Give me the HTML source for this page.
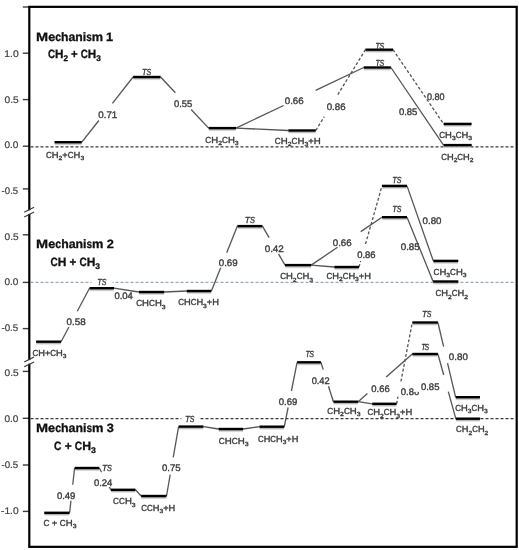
<!DOCTYPE html>
<html><head><meta charset="utf-8"><style>
html,body{margin:0;padding:0;background:#fff;}
body{width:519px;height:550px;position:relative;overflow:hidden;font-family:"Liberation Sans", sans-serif;}
svg text{font-family:"Liberation Sans", sans-serif;text-rendering:geometricPrecision;}
</style></head><body>
<svg width="519" height="550" viewBox="0 0 519 550" style="position:absolute;left:0;top:0;will-change:transform">
<line x1="30.5" y1="146.9" x2="515" y2="146.9" stroke="#3a3a3a" stroke-width="1.1" stroke-dasharray="3 2"/>
<line x1="30.5" y1="282.4" x2="515" y2="282.4" stroke="#9aa6b4" stroke-width="1.1" stroke-dasharray="3 2"/>
<line x1="30.5" y1="418.6" x2="515" y2="418.6" stroke="#3a3a3a" stroke-width="1.1" stroke-dasharray="3 2"/>
<line x1="81.80" y1="142.20" x2="98.87" y2="120.50" stroke="#555" stroke-width="1.3"/>
<line x1="112.41" y1="103.30" x2="133.10" y2="77.00" stroke="#555" stroke-width="1.3"/>
<line x1="160.60" y1="77.00" x2="175.35" y2="92.70" stroke="#555" stroke-width="1.3"/>
<line x1="191.13" y1="109.50" x2="208.60" y2="128.10" stroke="#555" stroke-width="1.3"/>
<line x1="236.00" y1="128.10" x2="283.62" y2="105.50" stroke="#555" stroke-width="1.3"/>
<line x1="315.65" y1="90.30" x2="363.70" y2="67.50" stroke="#555" stroke-width="1.3"/>
<line x1="236.00" y1="128.10" x2="288.30" y2="130.50" stroke="#555" stroke-width="1.3"/>
<line x1="315.80" y1="130.50" x2="324.27" y2="116.70" stroke="#555" stroke-width="1.3" stroke-dasharray="3 2"/>
<line x1="337.78" y1="94.70" x2="365.40" y2="49.70" stroke="#555" stroke-width="1.3" stroke-dasharray="3 2"/>
<line x1="390.90" y1="67.50" x2="443.50" y2="145.10" stroke="#555" stroke-width="1.3"/>
<line x1="393.00" y1="49.70" x2="443.60" y2="123.90" stroke="#555" stroke-width="1.3" stroke-dasharray="3 2"/>
<line x1="61.10" y1="341.70" x2="68.90" y2="327.00" stroke="#555" stroke-width="1.3"/>
<line x1="77.29" y1="311.20" x2="89.50" y2="288.20" stroke="#555" stroke-width="1.3"/>
<line x1="114.00" y1="288.20" x2="138.90" y2="292.00" stroke="#555" stroke-width="1.3"/>
<line x1="164.30" y1="292.00" x2="186.60" y2="291.00" stroke="#555" stroke-width="1.3"/>
<line x1="211.40" y1="291.00" x2="220.69" y2="267.80" stroke="#555" stroke-width="1.3"/>
<line x1="226.70" y1="252.80" x2="237.40" y2="226.10" stroke="#555" stroke-width="1.3"/>
<line x1="262.40" y1="226.10" x2="269.12" y2="237.70" stroke="#555" stroke-width="1.3"/>
<line x1="278.51" y1="253.90" x2="285.00" y2="265.10" stroke="#555" stroke-width="1.3"/>
<line x1="311.20" y1="265.10" x2="337.51" y2="247.30" stroke="#555" stroke-width="1.3"/>
<line x1="360.72" y1="231.60" x2="382.00" y2="217.20" stroke="#555" stroke-width="1.3"/>
<line x1="311.20" y1="265.10" x2="334.30" y2="267.00" stroke="#555" stroke-width="1.3"/>
<line x1="359.00" y1="267.00" x2="360.70" y2="261.00" stroke="#555" stroke-width="1.3" stroke-dasharray="3 2"/>
<line x1="365.52" y1="244.00" x2="382.00" y2="185.90" stroke="#555" stroke-width="1.3" stroke-dasharray="3 2"/>
<line x1="407.00" y1="185.90" x2="433.30" y2="260.90" stroke="#555" stroke-width="1.3"/>
<line x1="407.00" y1="217.20" x2="433.10" y2="281.50" stroke="#555" stroke-width="1.3"/>
<line x1="69.60" y1="512.80" x2="70.95" y2="500.70" stroke="#555" stroke-width="1.3"/>
<line x1="72.74" y1="484.70" x2="74.60" y2="468.00" stroke="#555" stroke-width="1.3"/>
<line x1="99.30" y1="468.00" x2="101.57" y2="472.30" stroke="#555" stroke-width="1.3"/>
<line x1="109.32" y1="487.00" x2="110.80" y2="489.80" stroke="#555" stroke-width="1.3"/>
<line x1="135.50" y1="489.80" x2="141.10" y2="496.00" stroke="#555" stroke-width="1.3"/>
<line x1="166.50" y1="496.00" x2="170.21" y2="474.70" stroke="#555" stroke-width="1.3"/>
<line x1="173.23" y1="457.40" x2="178.60" y2="426.60" stroke="#555" stroke-width="1.3"/>
<line x1="203.50" y1="426.60" x2="218.50" y2="429.00" stroke="#555" stroke-width="1.3"/>
<line x1="243.30" y1="429.00" x2="259.40" y2="426.70" stroke="#555" stroke-width="1.3"/>
<line x1="284.30" y1="426.70" x2="288.12" y2="407.50" stroke="#555" stroke-width="1.3"/>
<line x1="291.40" y1="391.00" x2="297.10" y2="362.30" stroke="#555" stroke-width="1.3"/>
<line x1="320.90" y1="362.30" x2="323.22" y2="369.60" stroke="#555" stroke-width="1.3"/>
<line x1="328.48" y1="386.20" x2="333.40" y2="401.70" stroke="#555" stroke-width="1.3"/>
<line x1="358.20" y1="401.70" x2="367.39" y2="393.60" stroke="#555" stroke-width="1.3"/>
<line x1="386.21" y1="377.00" x2="412.30" y2="354.00" stroke="#555" stroke-width="1.3"/>
<line x1="358.20" y1="401.70" x2="372.20" y2="403.80" stroke="#555" stroke-width="1.3"/>
<line x1="396.60" y1="403.80" x2="397.99" y2="396.60" stroke="#555" stroke-width="1.3" stroke-dasharray="3 2"/>
<line x1="400.91" y1="381.50" x2="412.30" y2="322.50" stroke="#555" stroke-width="1.3" stroke-dasharray="3 2"/>
<line x1="437.90" y1="322.50" x2="443.63" y2="346.70" stroke="#555" stroke-width="1.3"/>
<line x1="447.54" y1="363.20" x2="455.60" y2="397.20" stroke="#555" stroke-width="1.3"/>
<line x1="437.90" y1="354.00" x2="443.71" y2="375.00" stroke="#555" stroke-width="1.3"/>
<line x1="448.30" y1="391.60" x2="455.80" y2="418.70" stroke="#555" stroke-width="1.3"/>
<defs><linearGradient id="sh" x1="0" y1="0" x2="0" y2="1"><stop offset="0" stop-color="#9a9a9a"/><stop offset="0.45" stop-color="#cfcfcf"/><stop offset="1" stop-color="#fff" stop-opacity="0"/></linearGradient></defs>
<rect x="54.80" y="143.30" width="26.70" height="2.8" fill="url(#sh)"/>
<rect x="133.40" y="78.10" width="26.90" height="2.8" fill="url(#sh)"/>
<rect x="208.90" y="129.20" width="26.80" height="2.8" fill="url(#sh)"/>
<rect x="288.60" y="131.60" width="26.90" height="2.8" fill="url(#sh)"/>
<rect x="364.00" y="68.60" width="26.60" height="2.8" fill="url(#sh)"/>
<rect x="365.70" y="50.80" width="27.00" height="2.8" fill="url(#sh)"/>
<rect x="443.90" y="125.00" width="27.40" height="2.8" fill="url(#sh)"/>
<rect x="443.80" y="146.20" width="27.60" height="2.8" fill="url(#sh)"/>
<rect x="36.40" y="342.80" width="24.40" height="2.8" fill="url(#sh)"/>
<rect x="89.80" y="289.30" width="23.90" height="2.8" fill="url(#sh)"/>
<rect x="139.20" y="293.10" width="24.80" height="2.8" fill="url(#sh)"/>
<rect x="186.90" y="292.10" width="24.20" height="2.8" fill="url(#sh)"/>
<rect x="237.70" y="227.20" width="24.40" height="2.8" fill="url(#sh)"/>
<rect x="285.30" y="266.20" width="25.60" height="2.8" fill="url(#sh)"/>
<rect x="334.60" y="268.10" width="24.10" height="2.8" fill="url(#sh)"/>
<rect x="382.30" y="187.00" width="24.40" height="2.8" fill="url(#sh)"/>
<rect x="382.30" y="218.30" width="24.40" height="2.8" fill="url(#sh)"/>
<rect x="433.60" y="262.00" width="24.40" height="2.8" fill="url(#sh)"/>
<rect x="433.40" y="282.60" width="24.60" height="2.8" fill="url(#sh)"/>
<rect x="44.50" y="513.90" width="24.80" height="2.8" fill="url(#sh)"/>
<rect x="74.90" y="469.10" width="24.10" height="2.8" fill="url(#sh)"/>
<rect x="111.10" y="490.90" width="24.10" height="2.8" fill="url(#sh)"/>
<rect x="141.40" y="497.10" width="24.80" height="2.8" fill="url(#sh)"/>
<rect x="178.90" y="427.70" width="24.30" height="2.8" fill="url(#sh)"/>
<rect x="218.80" y="430.10" width="24.20" height="2.8" fill="url(#sh)"/>
<rect x="259.70" y="427.80" width="24.30" height="2.8" fill="url(#sh)"/>
<rect x="297.40" y="363.40" width="23.20" height="2.8" fill="url(#sh)"/>
<rect x="333.70" y="402.80" width="24.20" height="2.8" fill="url(#sh)"/>
<rect x="372.50" y="404.90" width="23.80" height="2.8" fill="url(#sh)"/>
<rect x="412.60" y="323.60" width="25.00" height="2.8" fill="url(#sh)"/>
<rect x="412.60" y="355.10" width="25.00" height="2.8" fill="url(#sh)"/>
<rect x="455.90" y="398.30" width="23.80" height="2.8" fill="url(#sh)"/>
<rect x="456.10" y="419.80" width="23.70" height="2.8" fill="url(#sh)"/>
<line x1="54.5" y1="142.2" x2="81.8" y2="142.2" stroke="#000" stroke-width="2.4"/>
<line x1="133.1" y1="77.0" x2="160.6" y2="77.0" stroke="#000" stroke-width="2.4"/>
<line x1="208.6" y1="128.1" x2="236.0" y2="128.1" stroke="#000" stroke-width="2.4"/>
<line x1="288.3" y1="130.5" x2="315.8" y2="130.5" stroke="#000" stroke-width="2.4"/>
<line x1="363.7" y1="67.5" x2="390.9" y2="67.5" stroke="#000" stroke-width="2.4"/>
<line x1="365.4" y1="49.7" x2="393.0" y2="49.7" stroke="#000" stroke-width="2.4"/>
<line x1="443.6" y1="123.9" x2="471.6" y2="123.9" stroke="#000" stroke-width="2.4"/>
<line x1="443.5" y1="145.1" x2="471.7" y2="145.1" stroke="#000" stroke-width="2.4"/>
<line x1="36.1" y1="341.7" x2="61.1" y2="341.7" stroke="#000" stroke-width="2.4"/>
<line x1="89.5" y1="288.2" x2="114.0" y2="288.2" stroke="#000" stroke-width="2.4"/>
<line x1="138.9" y1="292.0" x2="164.3" y2="292.0" stroke="#000" stroke-width="2.4"/>
<line x1="186.6" y1="291.0" x2="211.4" y2="291.0" stroke="#000" stroke-width="2.4"/>
<line x1="237.4" y1="226.1" x2="262.4" y2="226.1" stroke="#000" stroke-width="2.4"/>
<line x1="285.0" y1="265.1" x2="311.2" y2="265.1" stroke="#000" stroke-width="2.4"/>
<line x1="334.3" y1="267.0" x2="359.0" y2="267.0" stroke="#000" stroke-width="2.4"/>
<line x1="382.0" y1="185.9" x2="407.0" y2="185.9" stroke="#000" stroke-width="2.4"/>
<line x1="382.0" y1="217.2" x2="407.0" y2="217.2" stroke="#000" stroke-width="2.4"/>
<line x1="433.3" y1="260.9" x2="458.3" y2="260.9" stroke="#000" stroke-width="2.4"/>
<line x1="433.1" y1="281.5" x2="458.3" y2="281.5" stroke="#000" stroke-width="2.4"/>
<line x1="44.2" y1="512.8" x2="69.6" y2="512.8" stroke="#000" stroke-width="2.4"/>
<line x1="74.6" y1="468.0" x2="99.3" y2="468.0" stroke="#000" stroke-width="2.4"/>
<line x1="110.8" y1="489.8" x2="135.5" y2="489.8" stroke="#000" stroke-width="2.4"/>
<line x1="141.1" y1="496.0" x2="166.5" y2="496.0" stroke="#000" stroke-width="2.4"/>
<line x1="178.6" y1="426.6" x2="203.5" y2="426.6" stroke="#000" stroke-width="2.4"/>
<line x1="218.5" y1="429.0" x2="243.3" y2="429.0" stroke="#000" stroke-width="2.4"/>
<line x1="259.4" y1="426.7" x2="284.3" y2="426.7" stroke="#000" stroke-width="2.4"/>
<line x1="297.1" y1="362.3" x2="320.9" y2="362.3" stroke="#000" stroke-width="2.4"/>
<line x1="333.4" y1="401.7" x2="358.2" y2="401.7" stroke="#000" stroke-width="2.4"/>
<line x1="372.2" y1="403.8" x2="396.6" y2="403.8" stroke="#000" stroke-width="2.4"/>
<line x1="412.3" y1="322.5" x2="437.9" y2="322.5" stroke="#000" stroke-width="2.4"/>
<line x1="412.3" y1="354.0" x2="437.9" y2="354.0" stroke="#000" stroke-width="2.4"/>
<line x1="455.6" y1="397.2" x2="480.0" y2="397.2" stroke="#000" stroke-width="2.4"/>
<line x1="455.8" y1="418.7" x2="480.1" y2="418.7" stroke="#000" stroke-width="2.4"/>
<line x1="22.8" y1="7.0" x2="29" y2="7.0" stroke="#3c3c3c" stroke-width="1.4"/>
<line x1="22.8" y1="53.2" x2="29" y2="53.2" stroke="#3c3c3c" stroke-width="1.4"/>
<line x1="22.8" y1="99.6" x2="29" y2="99.6" stroke="#3c3c3c" stroke-width="1.4"/>
<line x1="22.8" y1="146.2" x2="29" y2="146.2" stroke="#3c3c3c" stroke-width="1.4"/>
<line x1="22.8" y1="188.9" x2="29" y2="188.9" stroke="#3c3c3c" stroke-width="1.4"/>
<line x1="22.8" y1="234.8" x2="29" y2="234.8" stroke="#3c3c3c" stroke-width="1.4"/>
<line x1="22.8" y1="282.4" x2="29" y2="282.4" stroke="#3c3c3c" stroke-width="1.4"/>
<line x1="22.8" y1="328.6" x2="29" y2="328.6" stroke="#3c3c3c" stroke-width="1.4"/>
<line x1="22.8" y1="371.4" x2="29" y2="371.4" stroke="#3c3c3c" stroke-width="1.4"/>
<line x1="22.8" y1="418.3" x2="29" y2="418.3" stroke="#3c3c3c" stroke-width="1.4"/>
<line x1="22.8" y1="465.0" x2="29" y2="465.0" stroke="#3c3c3c" stroke-width="1.4"/>
<line x1="22.8" y1="511.4" x2="29" y2="511.4" stroke="#3c3c3c" stroke-width="1.4"/>
<rect x="29.3" y="6.85" width="487.4" height="540.0" fill="none" stroke="#000" stroke-width="2.2"/>
<rect x="27" y="210.3" width="5" height="3.6" fill="#fff"/>
<line x1="24.2" y1="212.3" x2="34.1" y2="207.2" stroke="#3a3a3a" stroke-width="1.15"/>
<line x1="24.2" y1="216.9" x2="34.1" y2="212.1" stroke="#3a3a3a" stroke-width="1.15"/>
<rect x="27" y="360.1" width="5" height="3.6" fill="#fff"/>
<line x1="24.2" y1="362.1" x2="34.1" y2="357.0" stroke="#3a3a3a" stroke-width="1.15"/>
<line x1="24.2" y1="366.70000000000005" x2="34.1" y2="361.9" stroke="#3a3a3a" stroke-width="1.15"/>
<rect x="91.6" y="280.9" width="20.80000000000001" height="3" fill="#fff"/>
<rect x="181.3" y="417.1" width="17.599999999999994" height="3" fill="#fff"/>
<text transform="translate(98.37,117.70) scale(1.024,1)" font-size="9.50" font-weight="normal" font-style="normal" fill="#3a3a3a" stroke="#3a3a3a" stroke-width="0.35">0</text><text transform="translate(103.78,117.70) scale(1.018,1)" font-size="9.50" font-weight="normal" font-style="normal" fill="#3a3a3a" stroke="#3a3a3a" stroke-width="0.35">.</text><text transform="translate(106.46,117.70) scale(1.024,1)" font-size="9.50" font-weight="normal" font-style="normal" fill="#3a3a3a" stroke="#3a3a3a" stroke-width="0.35">7</text><text transform="translate(111.87,117.70) scale(1.024,1)" font-size="9.50" font-weight="normal" font-style="normal" fill="#3a3a3a" stroke="#3a3a3a" stroke-width="0.35">1</text>
<text transform="translate(173.95,106.50) scale(0.990,1)" font-size="9.50" font-weight="normal" font-style="normal" fill="#3a3a3a" stroke="#3a3a3a" stroke-width="0.35">0</text><text transform="translate(179.18,106.50) scale(0.984,1)" font-size="9.50" font-weight="normal" font-style="normal" fill="#3a3a3a" stroke="#3a3a3a" stroke-width="0.35">.</text><text transform="translate(181.78,106.50) scale(0.990,1)" font-size="9.50" font-weight="normal" font-style="normal" fill="#3a3a3a" stroke="#3a3a3a" stroke-width="0.35">5</text><text transform="translate(187.01,106.50) scale(0.990,1)" font-size="9.50" font-weight="normal" font-style="normal" fill="#3a3a3a" stroke="#3a3a3a" stroke-width="0.35">5</text>
<text transform="translate(284.73,104.00) scale(1.026,1)" font-size="9.50" font-weight="normal" font-style="normal" fill="#3a3a3a" stroke="#3a3a3a" stroke-width="0.35">0</text><text transform="translate(290.15,104.00) scale(1.020,1)" font-size="9.50" font-weight="normal" font-style="normal" fill="#3a3a3a" stroke="#3a3a3a" stroke-width="0.35">.</text><text transform="translate(292.84,104.00) scale(1.026,1)" font-size="9.50" font-weight="normal" font-style="normal" fill="#3a3a3a" stroke="#3a3a3a" stroke-width="0.35">6</text><text transform="translate(298.26,104.00) scale(1.026,1)" font-size="9.50" font-weight="normal" font-style="normal" fill="#3a3a3a" stroke="#3a3a3a" stroke-width="0.35">6</text>
<text transform="translate(326.74,109.70) scale(1.018,1)" font-size="9.50" font-weight="normal" font-style="normal" fill="#3a3a3a" stroke="#3a3a3a" stroke-width="0.35">0</text><text transform="translate(332.12,109.70) scale(1.012,1)" font-size="9.50" font-weight="normal" font-style="normal" fill="#3a3a3a" stroke="#3a3a3a" stroke-width="0.35">.</text><text transform="translate(334.80,109.70) scale(1.018,1)" font-size="9.50" font-weight="normal" font-style="normal" fill="#3a3a3a" stroke="#3a3a3a" stroke-width="0.35">8</text><text transform="translate(340.17,109.70) scale(1.018,1)" font-size="9.50" font-weight="normal" font-style="normal" fill="#3a3a3a" stroke="#3a3a3a" stroke-width="0.35">6</text>
<text transform="translate(398.93,115.00) scale(0.998,1)" font-size="9.50" font-weight="normal" font-style="normal" fill="#3a3a3a" stroke="#3a3a3a" stroke-width="0.35">0</text><text transform="translate(404.20,115.00) scale(0.992,1)" font-size="9.50" font-weight="normal" font-style="normal" fill="#3a3a3a" stroke="#3a3a3a" stroke-width="0.35">.</text><text transform="translate(406.82,115.00) scale(0.998,1)" font-size="9.50" font-weight="normal" font-style="normal" fill="#3a3a3a" stroke="#3a3a3a" stroke-width="0.35">8</text><text transform="translate(412.09,115.00) scale(0.998,1)" font-size="9.50" font-weight="normal" font-style="normal" fill="#3a3a3a" stroke="#3a3a3a" stroke-width="0.35">5</text>
<text transform="translate(426.94,100.00) scale(0.953,1)" font-size="9.50" font-weight="normal" font-style="normal" fill="#3a3a3a" stroke="#3a3a3a" stroke-width="0.35">0</text><text transform="translate(431.97,100.00) scale(0.947,1)" font-size="9.50" font-weight="normal" font-style="normal" fill="#3a3a3a" stroke="#3a3a3a" stroke-width="0.35">.</text><text transform="translate(434.47,100.00) scale(0.953,1)" font-size="9.50" font-weight="normal" font-style="normal" fill="#3a3a3a" stroke="#3a3a3a" stroke-width="0.35">8</text><text transform="translate(439.50,100.00) scale(0.953,1)" font-size="9.50" font-weight="normal" font-style="normal" fill="#3a3a3a" stroke="#3a3a3a" stroke-width="0.35">0</text>
<text transform="translate(142.11,74.85) scale(0.865,1)" font-size="8.80" font-weight="normal" font-style="italic" fill="#3a3a3a" stroke="#3a3a3a" stroke-width="0.35">T</text><text transform="translate(146.60,74.85) scale(0.800,1)" font-size="8.80" font-weight="normal" font-style="italic" fill="#3a3a3a" stroke="#3a3a3a" stroke-width="0.35">S</text>
<text transform="translate(375.55,66.15) scale(0.807,1)" font-size="8.80" font-weight="normal" font-style="italic" fill="#3a3a3a" stroke="#3a3a3a" stroke-width="0.35">T</text><text transform="translate(379.59,66.15) scale(0.800,1)" font-size="8.80" font-weight="normal" font-style="italic" fill="#3a3a3a" stroke="#3a3a3a" stroke-width="0.35">S</text>
<text transform="translate(375.55,49.15) scale(0.807,1)" font-size="8.80" font-weight="normal" font-style="italic" fill="#3a3a3a" stroke="#3a3a3a" stroke-width="0.35">T</text><text transform="translate(379.59,49.15) scale(0.800,1)" font-size="8.80" font-weight="normal" font-style="italic" fill="#3a3a3a" stroke="#3a3a3a" stroke-width="0.35">S</text>
<text transform="translate(46.03,157.95) scale(0.914,1)" font-size="8.80" font-weight="normal" font-style="normal" fill="#3a3a3a" stroke="#3a3a3a" stroke-width="0.35">C</text><text transform="translate(51.83,157.95) scale(1.068,1)" font-size="8.80" font-weight="normal" font-style="normal" fill="#3a3a3a" stroke="#3a3a3a" stroke-width="0.35">H</text><text transform="translate(58.62,160.33) scale(1.129,1)" font-size="5.98" font-weight="normal" font-style="normal" fill="#3a3a3a" stroke="#3a3a3a" stroke-width="0.35">2</text><text transform="translate(62.37,157.95) scale(1.056,1)" font-size="8.80" font-weight="normal" font-style="normal" fill="#3a3a3a" stroke="#3a3a3a" stroke-width="0.35">+</text><text transform="translate(67.80,157.95) scale(0.914,1)" font-size="8.80" font-weight="normal" font-style="normal" fill="#3a3a3a" stroke="#3a3a3a" stroke-width="0.35">C</text><text transform="translate(73.61,157.95) scale(1.068,1)" font-size="8.80" font-weight="normal" font-style="normal" fill="#3a3a3a" stroke="#3a3a3a" stroke-width="0.35">H</text><text transform="translate(80.39,160.33) scale(1.129,1)" font-size="5.98" font-weight="normal" font-style="normal" fill="#3a3a3a" stroke="#3a3a3a" stroke-width="0.35">3</text>
<text transform="translate(205.36,142.75) scale(0.930,1)" font-size="8.80" font-weight="normal" font-style="normal" fill="#3a3a3a" stroke="#3a3a3a" stroke-width="0.35">C</text><text transform="translate(211.27,142.75) scale(1.087,1)" font-size="8.80" font-weight="normal" font-style="normal" fill="#3a3a3a" stroke="#3a3a3a" stroke-width="0.35">H</text><text transform="translate(218.17,145.13) scale(1.148,1)" font-size="5.98" font-weight="normal" font-style="normal" fill="#3a3a3a" stroke="#3a3a3a" stroke-width="0.35">2</text><text transform="translate(221.99,142.75) scale(0.930,1)" font-size="8.80" font-weight="normal" font-style="normal" fill="#3a3a3a" stroke="#3a3a3a" stroke-width="0.35">C</text><text transform="translate(227.90,142.75) scale(1.087,1)" font-size="8.80" font-weight="normal" font-style="normal" fill="#3a3a3a" stroke="#3a3a3a" stroke-width="0.35">H</text><text transform="translate(234.80,145.13) scale(1.148,1)" font-size="5.98" font-weight="normal" font-style="normal" fill="#3a3a3a" stroke="#3a3a3a" stroke-width="0.35">3</text>
<text transform="translate(274.78,143.95) scale(0.936,1)" font-size="8.80" font-weight="normal" font-style="normal" fill="#3a3a3a" stroke="#3a3a3a" stroke-width="0.35">C</text><text transform="translate(280.73,143.95) scale(1.094,1)" font-size="8.80" font-weight="normal" font-style="normal" fill="#3a3a3a" stroke="#3a3a3a" stroke-width="0.35">H</text><text transform="translate(287.69,146.33) scale(1.157,1)" font-size="5.98" font-weight="normal" font-style="normal" fill="#3a3a3a" stroke="#3a3a3a" stroke-width="0.35">2</text><text transform="translate(291.53,143.95) scale(0.936,1)" font-size="8.80" font-weight="normal" font-style="normal" fill="#3a3a3a" stroke="#3a3a3a" stroke-width="0.35">C</text><text transform="translate(297.48,143.95) scale(1.094,1)" font-size="8.80" font-weight="normal" font-style="normal" fill="#3a3a3a" stroke="#3a3a3a" stroke-width="0.35">H</text><text transform="translate(304.44,146.33) scale(1.157,1)" font-size="5.98" font-weight="normal" font-style="normal" fill="#3a3a3a" stroke="#3a3a3a" stroke-width="0.35">3</text><text transform="translate(308.28,143.95) scale(1.082,1)" font-size="8.80" font-weight="normal" font-style="normal" fill="#3a3a3a" stroke="#3a3a3a" stroke-width="0.35">+</text><text transform="translate(313.84,143.95) scale(1.094,1)" font-size="8.80" font-weight="normal" font-style="normal" fill="#3a3a3a" stroke="#3a3a3a" stroke-width="0.35">H</text>
<text transform="translate(439.24,137.75) scale(0.918,1)" font-size="8.80" font-weight="normal" font-style="normal" fill="#3a3a3a" stroke="#3a3a3a" stroke-width="0.35">C</text><text transform="translate(445.07,137.75) scale(1.072,1)" font-size="8.80" font-weight="normal" font-style="normal" fill="#3a3a3a" stroke="#3a3a3a" stroke-width="0.35">H</text><text transform="translate(451.89,140.13) scale(1.133,1)" font-size="5.98" font-weight="normal" font-style="normal" fill="#3a3a3a" stroke="#3a3a3a" stroke-width="0.35">3</text><text transform="translate(455.66,137.75) scale(0.918,1)" font-size="8.80" font-weight="normal" font-style="normal" fill="#3a3a3a" stroke="#3a3a3a" stroke-width="0.35">C</text><text transform="translate(461.49,137.75) scale(1.072,1)" font-size="8.80" font-weight="normal" font-style="normal" fill="#3a3a3a" stroke="#3a3a3a" stroke-width="0.35">H</text><text transform="translate(468.30,140.13) scale(1.133,1)" font-size="5.98" font-weight="normal" font-style="normal" fill="#3a3a3a" stroke="#3a3a3a" stroke-width="0.35">3</text>
<text transform="translate(441.23,160.05) scale(0.902,1)" font-size="8.80" font-weight="normal" font-style="normal" fill="#3a3a3a" stroke="#3a3a3a" stroke-width="0.35">C</text><text transform="translate(446.96,160.05) scale(1.054,1)" font-size="8.80" font-weight="normal" font-style="normal" fill="#3a3a3a" stroke="#3a3a3a" stroke-width="0.35">H</text><text transform="translate(453.65,162.43) scale(1.114,1)" font-size="5.98" font-weight="normal" font-style="normal" fill="#3a3a3a" stroke="#3a3a3a" stroke-width="0.35">2</text><text transform="translate(457.36,160.05) scale(0.902,1)" font-size="8.80" font-weight="normal" font-style="normal" fill="#3a3a3a" stroke="#3a3a3a" stroke-width="0.35">C</text><text transform="translate(463.09,160.05) scale(1.054,1)" font-size="8.80" font-weight="normal" font-style="normal" fill="#3a3a3a" stroke="#3a3a3a" stroke-width="0.35">H</text><text transform="translate(469.78,162.43) scale(1.114,1)" font-size="5.98" font-weight="normal" font-style="normal" fill="#3a3a3a" stroke="#3a3a3a" stroke-width="0.35">2</text>
<text transform="translate(36.02,40.55) scale(1.200,1)" font-size="12.10" font-weight="bold" font-style="normal" fill="#111" stroke="#111" stroke-width="0.3">M</text><text transform="translate(48.14,40.55) scale(1.039,1)" font-size="12.10" font-weight="bold" font-style="normal" fill="#111" stroke="#111" stroke-width="0.3">e</text><text transform="translate(55.13,40.55) scale(0.863,1)" font-size="12.10" font-weight="bold" font-style="normal" fill="#111" stroke="#111" stroke-width="0.3">c</text><text transform="translate(60.94,40.55) scale(1.009,1)" font-size="12.10" font-weight="bold" font-style="normal" fill="#111" stroke="#111" stroke-width="0.3">h</text><text transform="translate(68.40,40.55) scale(1.020,1)" font-size="12.10" font-weight="bold" font-style="normal" fill="#111" stroke="#111" stroke-width="0.3">a</text><text transform="translate(75.26,40.55) scale(1.009,1)" font-size="12.10" font-weight="bold" font-style="normal" fill="#111" stroke="#111" stroke-width="0.3">n</text><text transform="translate(82.72,40.55) scale(1.016,1)" font-size="12.10" font-weight="bold" font-style="normal" fill="#111" stroke="#111" stroke-width="0.3">i</text><text transform="translate(86.14,40.55) scale(0.824,1)" font-size="12.10" font-weight="bold" font-style="normal" fill="#111" stroke="#111" stroke-width="0.3">s</text><text transform="translate(91.68,40.55) scale(1.050,1)" font-size="12.10" font-weight="bold" font-style="normal" fill="#111" stroke="#111" stroke-width="0.3">m</text><text transform="translate(106.12,40.55) scale(1.047,1)" font-size="12.10" font-weight="bold" font-style="normal" fill="#111" stroke="#111" stroke-width="0.3">1</text>
<text transform="translate(47.93,57.75) scale(0.811,1)" font-size="12.10" font-weight="bold" font-style="normal" fill="#111" stroke="#111" stroke-width="0.3">C</text><text transform="translate(55.01,57.75) scale(0.967,1)" font-size="12.10" font-weight="bold" font-style="normal" fill="#111" stroke="#111" stroke-width="0.3">H</text><text transform="translate(63.46,61.02) scale(1.009,1)" font-size="8.23" font-weight="bold" font-style="normal" fill="#111" stroke="#111" stroke-width="0.3">2</text><text transform="translate(71.10,57.75) scale(0.943,1)" font-size="12.10" font-weight="bold" font-style="normal" fill="#111" stroke="#111" stroke-width="0.3">+</text><text transform="translate(80.79,57.75) scale(0.811,1)" font-size="12.10" font-weight="bold" font-style="normal" fill="#111" stroke="#111" stroke-width="0.3">C</text><text transform="translate(87.87,57.75) scale(0.967,1)" font-size="12.10" font-weight="bold" font-style="normal" fill="#111" stroke="#111" stroke-width="0.3">H</text><text transform="translate(96.32,61.02) scale(1.009,1)" font-size="8.23" font-weight="bold" font-style="normal" fill="#111" stroke="#111" stroke-width="0.3">3</text>
<text transform="translate(66.57,325.20) scale(1.030,1)" font-size="9.50" font-weight="normal" font-style="normal" fill="#3a3a3a" stroke="#3a3a3a" stroke-width="0.35">0</text><text transform="translate(72.01,325.20) scale(1.024,1)" font-size="9.50" font-weight="normal" font-style="normal" fill="#3a3a3a" stroke="#3a3a3a" stroke-width="0.35">.</text><text transform="translate(74.72,325.20) scale(1.030,1)" font-size="9.50" font-weight="normal" font-style="normal" fill="#3a3a3a" stroke="#3a3a3a" stroke-width="0.35">5</text><text transform="translate(80.16,325.20) scale(1.030,1)" font-size="9.50" font-weight="normal" font-style="normal" fill="#3a3a3a" stroke="#3a3a3a" stroke-width="0.35">8</text>
<text transform="translate(114.43,298.70) scale(1.000,1)" font-size="9.50" font-weight="normal" font-style="normal" fill="#3a3a3a" stroke="#3a3a3a" stroke-width="0.35">0</text><text transform="translate(119.71,298.70) scale(0.994,1)" font-size="9.50" font-weight="normal" font-style="normal" fill="#3a3a3a" stroke="#3a3a3a" stroke-width="0.35">.</text><text transform="translate(122.34,298.70) scale(1.000,1)" font-size="9.50" font-weight="normal" font-style="normal" fill="#3a3a3a" stroke="#3a3a3a" stroke-width="0.35">0</text><text transform="translate(127.62,298.70) scale(1.000,1)" font-size="9.50" font-weight="normal" font-style="normal" fill="#3a3a3a" stroke="#3a3a3a" stroke-width="0.35">4</text>
<text transform="translate(218.73,266.00) scale(1.025,1)" font-size="9.50" font-weight="normal" font-style="normal" fill="#3a3a3a" stroke="#3a3a3a" stroke-width="0.35">0</text><text transform="translate(224.15,266.00) scale(1.019,1)" font-size="9.50" font-weight="normal" font-style="normal" fill="#3a3a3a" stroke="#3a3a3a" stroke-width="0.35">.</text><text transform="translate(226.84,266.00) scale(1.025,1)" font-size="9.50" font-weight="normal" font-style="normal" fill="#3a3a3a" stroke="#3a3a3a" stroke-width="0.35">6</text><text transform="translate(232.25,266.00) scale(1.025,1)" font-size="9.50" font-weight="normal" font-style="normal" fill="#3a3a3a" stroke="#3a3a3a" stroke-width="0.35">9</text>
<text transform="translate(264.68,251.90) scale(1.036,1)" font-size="9.50" font-weight="normal" font-style="normal" fill="#3a3a3a" stroke="#3a3a3a" stroke-width="0.35">0</text><text transform="translate(270.15,251.90) scale(1.030,1)" font-size="9.50" font-weight="normal" font-style="normal" fill="#3a3a3a" stroke="#3a3a3a" stroke-width="0.35">.</text><text transform="translate(272.87,251.90) scale(1.036,1)" font-size="9.50" font-weight="normal" font-style="normal" fill="#3a3a3a" stroke="#3a3a3a" stroke-width="0.35">4</text><text transform="translate(278.35,251.90) scale(1.036,1)" font-size="9.50" font-weight="normal" font-style="normal" fill="#3a3a3a" stroke="#3a3a3a" stroke-width="0.35">2</text>
<text transform="translate(332.73,246.10) scale(1.026,1)" font-size="9.50" font-weight="normal" font-style="normal" fill="#3a3a3a" stroke="#3a3a3a" stroke-width="0.35">0</text><text transform="translate(338.15,246.10) scale(1.020,1)" font-size="9.50" font-weight="normal" font-style="normal" fill="#3a3a3a" stroke="#3a3a3a" stroke-width="0.35">.</text><text transform="translate(340.84,246.10) scale(1.026,1)" font-size="9.50" font-weight="normal" font-style="normal" fill="#3a3a3a" stroke="#3a3a3a" stroke-width="0.35">6</text><text transform="translate(346.26,246.10) scale(1.026,1)" font-size="9.50" font-weight="normal" font-style="normal" fill="#3a3a3a" stroke="#3a3a3a" stroke-width="0.35">6</text>
<text transform="translate(357.19,257.90) scale(0.994,1)" font-size="9.50" font-weight="normal" font-style="normal" fill="#3a3a3a" stroke="#3a3a3a" stroke-width="0.35">0</text><text transform="translate(362.44,257.90) scale(0.988,1)" font-size="9.50" font-weight="normal" font-style="normal" fill="#3a3a3a" stroke="#3a3a3a" stroke-width="0.35">.</text><text transform="translate(365.05,257.90) scale(0.994,1)" font-size="9.50" font-weight="normal" font-style="normal" fill="#3a3a3a" stroke="#3a3a3a" stroke-width="0.35">8</text><text transform="translate(370.30,257.90) scale(0.994,1)" font-size="9.50" font-weight="normal" font-style="normal" fill="#3a3a3a" stroke="#3a3a3a" stroke-width="0.35">6</text>
<text transform="translate(422.57,223.80) scale(1.022,1)" font-size="9.50" font-weight="normal" font-style="normal" fill="#3a3a3a" stroke="#3a3a3a" stroke-width="0.35">0</text><text transform="translate(427.97,223.80) scale(1.016,1)" font-size="9.50" font-weight="normal" font-style="normal" fill="#3a3a3a" stroke="#3a3a3a" stroke-width="0.35">.</text><text transform="translate(430.65,223.80) scale(1.022,1)" font-size="9.50" font-weight="normal" font-style="normal" fill="#3a3a3a" stroke="#3a3a3a" stroke-width="0.35">8</text><text transform="translate(436.05,223.80) scale(1.022,1)" font-size="9.50" font-weight="normal" font-style="normal" fill="#3a3a3a" stroke="#3a3a3a" stroke-width="0.35">0</text>
<text transform="translate(400.72,250.10) scale(1.031,1)" font-size="9.50" font-weight="normal" font-style="normal" fill="#3a3a3a" stroke="#3a3a3a" stroke-width="0.35">0</text><text transform="translate(406.16,250.10) scale(1.025,1)" font-size="9.50" font-weight="normal" font-style="normal" fill="#3a3a3a" stroke="#3a3a3a" stroke-width="0.35">.</text><text transform="translate(408.87,250.10) scale(1.031,1)" font-size="9.50" font-weight="normal" font-style="normal" fill="#3a3a3a" stroke="#3a3a3a" stroke-width="0.35">8</text><text transform="translate(414.32,250.10) scale(1.031,1)" font-size="9.50" font-weight="normal" font-style="normal" fill="#3a3a3a" stroke="#3a3a3a" stroke-width="0.35">5</text>
<text transform="translate(97.22,284.75) scale(0.861,1)" font-size="8.80" font-weight="normal" font-style="italic" fill="#3a3a3a" stroke="#3a3a3a" stroke-width="0.35">T</text><text transform="translate(101.68,284.75) scale(0.800,1)" font-size="8.80" font-weight="normal" font-style="italic" fill="#3a3a3a" stroke="#3a3a3a" stroke-width="0.35">S</text>
<text transform="translate(244.86,223.45) scale(0.972,1)" font-size="8.80" font-weight="normal" font-style="italic" fill="#3a3a3a" stroke="#3a3a3a" stroke-width="0.35">T</text><text transform="translate(250.08,223.45) scale(0.839,1)" font-size="8.80" font-weight="normal" font-style="italic" fill="#3a3a3a" stroke="#3a3a3a" stroke-width="0.35">S</text>
<text transform="translate(392.21,182.95) scale(0.863,1)" font-size="8.80" font-weight="normal" font-style="italic" fill="#3a3a3a" stroke="#3a3a3a" stroke-width="0.35">T</text><text transform="translate(396.69,182.95) scale(0.800,1)" font-size="8.80" font-weight="normal" font-style="italic" fill="#3a3a3a" stroke="#3a3a3a" stroke-width="0.35">S</text>
<text transform="translate(392.21,212.45) scale(0.863,1)" font-size="8.80" font-weight="normal" font-style="italic" fill="#3a3a3a" stroke="#3a3a3a" stroke-width="0.35">T</text><text transform="translate(396.69,212.45) scale(0.800,1)" font-size="8.80" font-weight="normal" font-style="italic" fill="#3a3a3a" stroke="#3a3a3a" stroke-width="0.35">S</text>
<text transform="translate(32.51,355.85) scale(0.905,1)" font-size="8.80" font-weight="normal" font-style="normal" fill="#3a3a3a" stroke="#3a3a3a" stroke-width="0.35">C</text><text transform="translate(38.26,355.85) scale(1.057,1)" font-size="8.80" font-weight="normal" font-style="normal" fill="#3a3a3a" stroke="#3a3a3a" stroke-width="0.35">H</text><text transform="translate(44.98,355.85) scale(1.045,1)" font-size="8.80" font-weight="normal" font-style="normal" fill="#3a3a3a" stroke="#3a3a3a" stroke-width="0.35">+</text><text transform="translate(50.35,355.85) scale(0.905,1)" font-size="8.80" font-weight="normal" font-style="normal" fill="#3a3a3a" stroke="#3a3a3a" stroke-width="0.35">C</text><text transform="translate(56.09,355.85) scale(1.057,1)" font-size="8.80" font-weight="normal" font-style="normal" fill="#3a3a3a" stroke="#3a3a3a" stroke-width="0.35">H</text><text transform="translate(62.81,358.23) scale(1.118,1)" font-size="5.98" font-weight="normal" font-style="normal" fill="#3a3a3a" stroke="#3a3a3a" stroke-width="0.35">3</text>
<text transform="translate(136.22,306.45) scale(0.927,1)" font-size="8.80" font-weight="normal" font-style="normal" fill="#3a3a3a" stroke="#3a3a3a" stroke-width="0.35">C</text><text transform="translate(142.11,306.45) scale(1.083,1)" font-size="8.80" font-weight="normal" font-style="normal" fill="#3a3a3a" stroke="#3a3a3a" stroke-width="0.35">H</text><text transform="translate(148.99,306.45) scale(0.927,1)" font-size="8.80" font-weight="normal" font-style="normal" fill="#3a3a3a" stroke="#3a3a3a" stroke-width="0.35">C</text><text transform="translate(154.88,306.45) scale(1.083,1)" font-size="8.80" font-weight="normal" font-style="normal" fill="#3a3a3a" stroke="#3a3a3a" stroke-width="0.35">H</text><text transform="translate(161.76,308.83) scale(1.145,1)" font-size="5.98" font-weight="normal" font-style="normal" fill="#3a3a3a" stroke="#3a3a3a" stroke-width="0.35">3</text>
<text transform="translate(178.18,305.35) scale(0.905,1)" font-size="8.80" font-weight="normal" font-style="normal" fill="#3a3a3a" stroke="#3a3a3a" stroke-width="0.35">C</text><text transform="translate(183.93,305.35) scale(1.058,1)" font-size="8.80" font-weight="normal" font-style="normal" fill="#3a3a3a" stroke="#3a3a3a" stroke-width="0.35">H</text><text transform="translate(190.65,305.35) scale(0.905,1)" font-size="8.80" font-weight="normal" font-style="normal" fill="#3a3a3a" stroke="#3a3a3a" stroke-width="0.35">C</text><text transform="translate(196.40,305.35) scale(1.058,1)" font-size="8.80" font-weight="normal" font-style="normal" fill="#3a3a3a" stroke="#3a3a3a" stroke-width="0.35">H</text><text transform="translate(203.12,307.73) scale(1.118,1)" font-size="5.98" font-weight="normal" font-style="normal" fill="#3a3a3a" stroke="#3a3a3a" stroke-width="0.35">3</text><text transform="translate(206.84,305.35) scale(1.046,1)" font-size="8.80" font-weight="normal" font-style="normal" fill="#3a3a3a" stroke="#3a3a3a" stroke-width="0.35">+</text><text transform="translate(212.22,305.35) scale(1.058,1)" font-size="8.80" font-weight="normal" font-style="normal" fill="#3a3a3a" stroke="#3a3a3a" stroke-width="0.35">H</text>
<text transform="translate(280.13,279.25) scale(0.923,1)" font-size="8.80" font-weight="normal" font-style="normal" fill="#3a3a3a" stroke="#3a3a3a" stroke-width="0.35">C</text><text transform="translate(285.99,279.25) scale(1.078,1)" font-size="8.80" font-weight="normal" font-style="normal" fill="#3a3a3a" stroke="#3a3a3a" stroke-width="0.35">H</text><text transform="translate(292.84,281.63) scale(1.140,1)" font-size="5.98" font-weight="normal" font-style="normal" fill="#3a3a3a" stroke="#3a3a3a" stroke-width="0.35">2</text><text transform="translate(296.63,279.25) scale(0.923,1)" font-size="8.80" font-weight="normal" font-style="normal" fill="#3a3a3a" stroke="#3a3a3a" stroke-width="0.35">C</text><text transform="translate(302.49,279.25) scale(1.078,1)" font-size="8.80" font-weight="normal" font-style="normal" fill="#3a3a3a" stroke="#3a3a3a" stroke-width="0.35">H</text><text transform="translate(309.34,281.63) scale(1.140,1)" font-size="5.98" font-weight="normal" font-style="normal" fill="#3a3a3a" stroke="#3a3a3a" stroke-width="0.35">3</text>
<text transform="translate(326.46,278.95) scale(0.905,1)" font-size="8.80" font-weight="normal" font-style="normal" fill="#3a3a3a" stroke="#3a3a3a" stroke-width="0.35">C</text><text transform="translate(332.21,278.95) scale(1.058,1)" font-size="8.80" font-weight="normal" font-style="normal" fill="#3a3a3a" stroke="#3a3a3a" stroke-width="0.35">H</text><text transform="translate(338.93,281.33) scale(1.118,1)" font-size="5.98" font-weight="normal" font-style="normal" fill="#3a3a3a" stroke="#3a3a3a" stroke-width="0.35">2</text><text transform="translate(342.65,278.95) scale(0.905,1)" font-size="8.80" font-weight="normal" font-style="normal" fill="#3a3a3a" stroke="#3a3a3a" stroke-width="0.35">C</text><text transform="translate(348.40,278.95) scale(1.058,1)" font-size="8.80" font-weight="normal" font-style="normal" fill="#3a3a3a" stroke="#3a3a3a" stroke-width="0.35">H</text><text transform="translate(355.12,281.33) scale(1.118,1)" font-size="5.98" font-weight="normal" font-style="normal" fill="#3a3a3a" stroke="#3a3a3a" stroke-width="0.35">3</text><text transform="translate(358.84,278.95) scale(1.045,1)" font-size="8.80" font-weight="normal" font-style="normal" fill="#3a3a3a" stroke="#3a3a3a" stroke-width="0.35">+</text><text transform="translate(364.21,278.95) scale(1.058,1)" font-size="8.80" font-weight="normal" font-style="normal" fill="#3a3a3a" stroke="#3a3a3a" stroke-width="0.35">H</text>
<text transform="translate(433.56,274.75) scale(0.925,1)" font-size="8.80" font-weight="normal" font-style="normal" fill="#3a3a3a" stroke="#3a3a3a" stroke-width="0.35">C</text><text transform="translate(439.44,274.75) scale(1.081,1)" font-size="8.80" font-weight="normal" font-style="normal" fill="#3a3a3a" stroke="#3a3a3a" stroke-width="0.35">H</text><text transform="translate(446.31,277.13) scale(1.142,1)" font-size="5.98" font-weight="normal" font-style="normal" fill="#3a3a3a" stroke="#3a3a3a" stroke-width="0.35">3</text><text transform="translate(450.11,274.75) scale(0.925,1)" font-size="8.80" font-weight="normal" font-style="normal" fill="#3a3a3a" stroke="#3a3a3a" stroke-width="0.35">C</text><text transform="translate(455.98,274.75) scale(1.081,1)" font-size="8.80" font-weight="normal" font-style="normal" fill="#3a3a3a" stroke="#3a3a3a" stroke-width="0.35">H</text><text transform="translate(462.85,277.13) scale(1.142,1)" font-size="5.98" font-weight="normal" font-style="normal" fill="#3a3a3a" stroke="#3a3a3a" stroke-width="0.35">3</text>
<text transform="translate(435.56,296.35) scale(0.910,1)" font-size="8.80" font-weight="normal" font-style="normal" fill="#3a3a3a" stroke="#3a3a3a" stroke-width="0.35">C</text><text transform="translate(441.34,296.35) scale(1.063,1)" font-size="8.80" font-weight="normal" font-style="normal" fill="#3a3a3a" stroke="#3a3a3a" stroke-width="0.35">H</text><text transform="translate(448.10,298.73) scale(1.123,1)" font-size="5.98" font-weight="normal" font-style="normal" fill="#3a3a3a" stroke="#3a3a3a" stroke-width="0.35">2</text><text transform="translate(451.83,296.35) scale(0.910,1)" font-size="8.80" font-weight="normal" font-style="normal" fill="#3a3a3a" stroke="#3a3a3a" stroke-width="0.35">C</text><text transform="translate(457.61,296.35) scale(1.063,1)" font-size="8.80" font-weight="normal" font-style="normal" fill="#3a3a3a" stroke="#3a3a3a" stroke-width="0.35">H</text><text transform="translate(464.37,298.73) scale(1.123,1)" font-size="5.98" font-weight="normal" font-style="normal" fill="#3a3a3a" stroke="#3a3a3a" stroke-width="0.35">2</text>
<text transform="translate(36.09,248.45) scale(1.200,1)" font-size="12.10" font-weight="bold" font-style="normal" fill="#111" stroke="#111" stroke-width="0.3">M</text><text transform="translate(48.25,248.45) scale(1.046,1)" font-size="12.10" font-weight="bold" font-style="normal" fill="#111" stroke="#111" stroke-width="0.3">e</text><text transform="translate(55.29,248.45) scale(0.869,1)" font-size="12.10" font-weight="bold" font-style="normal" fill="#111" stroke="#111" stroke-width="0.3">c</text><text transform="translate(61.14,248.45) scale(1.016,1)" font-size="12.10" font-weight="bold" font-style="normal" fill="#111" stroke="#111" stroke-width="0.3">h</text><text transform="translate(68.65,248.45) scale(1.028,1)" font-size="12.10" font-weight="bold" font-style="normal" fill="#111" stroke="#111" stroke-width="0.3">a</text><text transform="translate(75.57,248.45) scale(1.016,1)" font-size="12.10" font-weight="bold" font-style="normal" fill="#111" stroke="#111" stroke-width="0.3">n</text><text transform="translate(83.08,248.45) scale(1.023,1)" font-size="12.10" font-weight="bold" font-style="normal" fill="#111" stroke="#111" stroke-width="0.3">i</text><text transform="translate(86.52,248.45) scale(0.830,1)" font-size="12.10" font-weight="bold" font-style="normal" fill="#111" stroke="#111" stroke-width="0.3">s</text><text transform="translate(92.11,248.45) scale(1.058,1)" font-size="12.10" font-weight="bold" font-style="normal" fill="#111" stroke="#111" stroke-width="0.3">m</text><text transform="translate(106.65,248.45) scale(1.055,1)" font-size="12.10" font-weight="bold" font-style="normal" fill="#111" stroke="#111" stroke-width="0.3">2</text>
<text transform="translate(50.60,265.75) scale(0.829,1)" font-size="12.10" font-weight="bold" font-style="normal" fill="#111" stroke="#111" stroke-width="0.3">C</text><text transform="translate(57.84,265.75) scale(0.988,1)" font-size="12.10" font-weight="bold" font-style="normal" fill="#111" stroke="#111" stroke-width="0.3">H</text><text transform="translate(69.57,265.75) scale(0.964,1)" font-size="12.10" font-weight="bold" font-style="normal" fill="#111" stroke="#111" stroke-width="0.3">+</text><text transform="translate(79.47,265.75) scale(0.829,1)" font-size="12.10" font-weight="bold" font-style="normal" fill="#111" stroke="#111" stroke-width="0.3">C</text><text transform="translate(86.71,265.75) scale(0.988,1)" font-size="12.10" font-weight="bold" font-style="normal" fill="#111" stroke="#111" stroke-width="0.3">H</text><text transform="translate(95.34,269.02) scale(1.031,1)" font-size="8.23" font-weight="bold" font-style="normal" fill="#111" stroke="#111" stroke-width="0.3">3</text>
<text transform="translate(56.92,498.60) scale(1.001,1)" font-size="9.50" font-weight="normal" font-style="normal" fill="#3a3a3a" stroke="#3a3a3a" stroke-width="0.35">0</text><text transform="translate(62.21,498.60) scale(0.995,1)" font-size="9.50" font-weight="normal" font-style="normal" fill="#3a3a3a" stroke="#3a3a3a" stroke-width="0.35">.</text><text transform="translate(64.84,498.60) scale(1.001,1)" font-size="9.50" font-weight="normal" font-style="normal" fill="#3a3a3a" stroke="#3a3a3a" stroke-width="0.35">4</text><text transform="translate(70.12,498.60) scale(1.001,1)" font-size="9.50" font-weight="normal" font-style="normal" fill="#3a3a3a" stroke="#3a3a3a" stroke-width="0.35">9</text>
<text transform="translate(93.96,486.20) scale(0.996,1)" font-size="9.50" font-weight="normal" font-style="normal" fill="#3a3a3a" stroke="#3a3a3a" stroke-width="0.35">0</text><text transform="translate(99.22,486.20) scale(0.990,1)" font-size="9.50" font-weight="normal" font-style="normal" fill="#3a3a3a" stroke="#3a3a3a" stroke-width="0.35">.</text><text transform="translate(101.84,486.20) scale(0.996,1)" font-size="9.50" font-weight="normal" font-style="normal" fill="#3a3a3a" stroke="#3a3a3a" stroke-width="0.35">2</text><text transform="translate(107.10,486.20) scale(0.996,1)" font-size="9.50" font-weight="normal" font-style="normal" fill="#3a3a3a" stroke="#3a3a3a" stroke-width="0.35">4</text>
<text transform="translate(161.94,471.20) scale(1.014,1)" font-size="9.50" font-weight="normal" font-style="normal" fill="#3a3a3a" stroke="#3a3a3a" stroke-width="0.35">0</text><text transform="translate(167.30,471.20) scale(1.008,1)" font-size="9.50" font-weight="normal" font-style="normal" fill="#3a3a3a" stroke="#3a3a3a" stroke-width="0.35">.</text><text transform="translate(169.96,471.20) scale(1.014,1)" font-size="9.50" font-weight="normal" font-style="normal" fill="#3a3a3a" stroke="#3a3a3a" stroke-width="0.35">7</text><text transform="translate(175.32,471.20) scale(1.014,1)" font-size="9.50" font-weight="normal" font-style="normal" fill="#3a3a3a" stroke="#3a3a3a" stroke-width="0.35">5</text>
<text transform="translate(278.74,405.20) scale(1.002,1)" font-size="9.50" font-weight="normal" font-style="normal" fill="#3a3a3a" stroke="#3a3a3a" stroke-width="0.35">0</text><text transform="translate(284.03,405.20) scale(0.996,1)" font-size="9.50" font-weight="normal" font-style="normal" fill="#3a3a3a" stroke="#3a3a3a" stroke-width="0.35">.</text><text transform="translate(286.66,405.20) scale(1.002,1)" font-size="9.50" font-weight="normal" font-style="normal" fill="#3a3a3a" stroke="#3a3a3a" stroke-width="0.35">6</text><text transform="translate(291.95,405.20) scale(1.002,1)" font-size="9.50" font-weight="normal" font-style="normal" fill="#3a3a3a" stroke="#3a3a3a" stroke-width="0.35">9</text>
<text transform="translate(311.64,384.00) scale(0.977,1)" font-size="9.50" font-weight="normal" font-style="normal" fill="#3a3a3a" stroke="#3a3a3a" stroke-width="0.35">0</text><text transform="translate(316.81,384.00) scale(0.971,1)" font-size="9.50" font-weight="normal" font-style="normal" fill="#3a3a3a" stroke="#3a3a3a" stroke-width="0.35">.</text><text transform="translate(319.37,384.00) scale(0.977,1)" font-size="9.50" font-weight="normal" font-style="normal" fill="#3a3a3a" stroke="#3a3a3a" stroke-width="0.35">4</text><text transform="translate(324.53,384.00) scale(0.977,1)" font-size="9.50" font-weight="normal" font-style="normal" fill="#3a3a3a" stroke="#3a3a3a" stroke-width="0.35">2</text>
<text transform="translate(371.29,391.50) scale(0.997,1)" font-size="9.50" font-weight="normal" font-style="normal" fill="#3a3a3a" stroke="#3a3a3a" stroke-width="0.35">0</text><text transform="translate(376.56,391.50) scale(0.992,1)" font-size="9.50" font-weight="normal" font-style="normal" fill="#3a3a3a" stroke="#3a3a3a" stroke-width="0.35">.</text><text transform="translate(379.18,391.50) scale(0.997,1)" font-size="9.50" font-weight="normal" font-style="normal" fill="#3a3a3a" stroke="#3a3a3a" stroke-width="0.35">6</text><text transform="translate(384.44,391.50) scale(0.997,1)" font-size="9.50" font-weight="normal" font-style="normal" fill="#3a3a3a" stroke="#3a3a3a" stroke-width="0.35">6</text>
<text transform="translate(400.77,394.70) scale(0.998,1)" font-size="9.50" font-weight="normal" font-style="normal" fill="#3a3a3a" stroke="#3a3a3a" stroke-width="0.35">0</text><text transform="translate(406.04,394.70) scale(0.992,1)" font-size="9.50" font-weight="normal" font-style="normal" fill="#3a3a3a" stroke="#3a3a3a" stroke-width="0.35">.</text><text transform="translate(408.66,394.70) scale(0.998,1)" font-size="9.50" font-weight="normal" font-style="normal" fill="#3a3a3a" stroke="#3a3a3a" stroke-width="0.35">8</text><text transform="translate(413.93,394.70) scale(0.998,1)" font-size="9.50" font-weight="normal" font-style="normal" fill="#3a3a3a" stroke="#3a3a3a" stroke-width="0.35">6</text>
<rect x="413.8" y="381" width="27" height="10.9" fill="#fff"/>
<text transform="translate(420.91,390.00) scale(1.002,1)" font-size="9.50" font-weight="normal" font-style="normal" fill="#3a3a3a" stroke="#3a3a3a" stroke-width="0.35">0</text><text transform="translate(426.20,390.00) scale(0.996,1)" font-size="9.50" font-weight="normal" font-style="normal" fill="#3a3a3a" stroke="#3a3a3a" stroke-width="0.35">.</text><text transform="translate(428.84,390.00) scale(1.002,1)" font-size="9.50" font-weight="normal" font-style="normal" fill="#3a3a3a" stroke="#3a3a3a" stroke-width="0.35">8</text><text transform="translate(434.13,390.00) scale(1.002,1)" font-size="9.50" font-weight="normal" font-style="normal" fill="#3a3a3a" stroke="#3a3a3a" stroke-width="0.35">5</text>
<text transform="translate(448.86,360.00) scale(1.031,1)" font-size="9.50" font-weight="normal" font-style="normal" fill="#3a3a3a" stroke="#3a3a3a" stroke-width="0.35">0</text><text transform="translate(454.31,360.00) scale(1.025,1)" font-size="9.50" font-weight="normal" font-style="normal" fill="#3a3a3a" stroke="#3a3a3a" stroke-width="0.35">.</text><text transform="translate(457.02,360.00) scale(1.031,1)" font-size="9.50" font-weight="normal" font-style="normal" fill="#3a3a3a" stroke="#3a3a3a" stroke-width="0.35">8</text><text transform="translate(462.47,360.00) scale(1.031,1)" font-size="9.50" font-weight="normal" font-style="normal" fill="#3a3a3a" stroke="#3a3a3a" stroke-width="0.35">0</text>
<text transform="translate(101.99,470.65) scale(0.953,1)" font-size="8.80" font-weight="normal" font-style="italic" fill="#3a3a3a" stroke="#3a3a3a" stroke-width="0.35">T</text><text transform="translate(107.12,470.65) scale(0.823,1)" font-size="8.80" font-weight="normal" font-style="italic" fill="#3a3a3a" stroke="#3a3a3a" stroke-width="0.35">S</text>
<text transform="translate(184.89,421.75) scale(0.925,1)" font-size="8.80" font-weight="normal" font-style="italic" fill="#3a3a3a" stroke="#3a3a3a" stroke-width="0.35">T</text><text transform="translate(189.86,421.75) scale(0.800,1)" font-size="8.80" font-weight="normal" font-style="italic" fill="#3a3a3a" stroke="#3a3a3a" stroke-width="0.35">S</text>
<text transform="translate(305.57,356.55) scale(0.800,1)" font-size="8.80" font-weight="normal" font-style="italic" fill="#3a3a3a" stroke="#3a3a3a" stroke-width="0.35">T</text><text transform="translate(309.21,356.55) scale(0.800,1)" font-size="8.80" font-weight="normal" font-style="italic" fill="#3a3a3a" stroke="#3a3a3a" stroke-width="0.35">S</text>
<text transform="translate(421.91,317.45) scale(0.924,1)" font-size="8.80" font-weight="normal" font-style="italic" fill="#3a3a3a" stroke="#3a3a3a" stroke-width="0.35">T</text><text transform="translate(426.87,317.45) scale(0.800,1)" font-size="8.80" font-weight="normal" font-style="italic" fill="#3a3a3a" stroke="#3a3a3a" stroke-width="0.35">S</text>
<text transform="translate(421.17,350.15) scale(0.800,1)" font-size="8.80" font-weight="normal" font-style="italic" fill="#3a3a3a" stroke="#3a3a3a" stroke-width="0.35">T</text><text transform="translate(424.59,350.15) scale(0.800,1)" font-size="8.80" font-weight="normal" font-style="italic" fill="#3a3a3a" stroke="#3a3a3a" stroke-width="0.35">S</text>
<text transform="translate(43.40,526.05) scale(0.931,1)" font-size="8.80" font-weight="normal" font-style="normal" fill="#3a3a3a" stroke="#3a3a3a" stroke-width="0.35">C</text><text transform="translate(51.83,526.05) scale(1.075,1)" font-size="8.80" font-weight="normal" font-style="normal" fill="#3a3a3a" stroke="#3a3a3a" stroke-width="0.35">+</text><text transform="translate(59.86,526.05) scale(0.931,1)" font-size="8.80" font-weight="normal" font-style="normal" fill="#3a3a3a" stroke="#3a3a3a" stroke-width="0.35">C</text><text transform="translate(65.77,526.05) scale(1.088,1)" font-size="8.80" font-weight="normal" font-style="normal" fill="#3a3a3a" stroke="#3a3a3a" stroke-width="0.35">H</text><text transform="translate(72.68,528.43) scale(1.150,1)" font-size="5.98" font-weight="normal" font-style="normal" fill="#3a3a3a" stroke="#3a3a3a" stroke-width="0.35">3</text>
<text transform="translate(113.12,504.35) scale(0.929,1)" font-size="8.80" font-weight="normal" font-style="normal" fill="#3a3a3a" stroke="#3a3a3a" stroke-width="0.35">C</text><text transform="translate(119.02,504.35) scale(0.929,1)" font-size="8.80" font-weight="normal" font-style="normal" fill="#3a3a3a" stroke="#3a3a3a" stroke-width="0.35">C</text><text transform="translate(124.93,504.35) scale(1.086,1)" font-size="8.80" font-weight="normal" font-style="normal" fill="#3a3a3a" stroke="#3a3a3a" stroke-width="0.35">H</text><text transform="translate(131.83,506.73) scale(1.148,1)" font-size="5.98" font-weight="normal" font-style="normal" fill="#3a3a3a" stroke="#3a3a3a" stroke-width="0.35">3</text>
<text transform="translate(141.27,510.55) scale(0.903,1)" font-size="8.80" font-weight="normal" font-style="normal" fill="#3a3a3a" stroke="#3a3a3a" stroke-width="0.35">C</text><text transform="translate(147.00,510.55) scale(0.903,1)" font-size="8.80" font-weight="normal" font-style="normal" fill="#3a3a3a" stroke="#3a3a3a" stroke-width="0.35">C</text><text transform="translate(152.74,510.55) scale(1.055,1)" font-size="8.80" font-weight="normal" font-style="normal" fill="#3a3a3a" stroke="#3a3a3a" stroke-width="0.35">H</text><text transform="translate(159.45,512.93) scale(1.115,1)" font-size="5.98" font-weight="normal" font-style="normal" fill="#3a3a3a" stroke="#3a3a3a" stroke-width="0.35">3</text><text transform="translate(163.16,510.55) scale(1.043,1)" font-size="8.80" font-weight="normal" font-style="normal" fill="#3a3a3a" stroke="#3a3a3a" stroke-width="0.35">+</text><text transform="translate(168.52,510.55) scale(1.055,1)" font-size="8.80" font-weight="normal" font-style="normal" fill="#3a3a3a" stroke="#3a3a3a" stroke-width="0.35">H</text>
<text transform="translate(218.78,444.05) scale(0.941,1)" font-size="8.80" font-weight="normal" font-style="normal" fill="#3a3a3a" stroke="#3a3a3a" stroke-width="0.35">C</text><text transform="translate(224.76,444.05) scale(1.100,1)" font-size="8.80" font-weight="normal" font-style="normal" fill="#3a3a3a" stroke="#3a3a3a" stroke-width="0.35">H</text><text transform="translate(231.75,444.05) scale(0.941,1)" font-size="8.80" font-weight="normal" font-style="normal" fill="#3a3a3a" stroke="#3a3a3a" stroke-width="0.35">C</text><text transform="translate(237.73,444.05) scale(1.100,1)" font-size="8.80" font-weight="normal" font-style="normal" fill="#3a3a3a" stroke="#3a3a3a" stroke-width="0.35">H</text><text transform="translate(244.71,446.43) scale(1.162,1)" font-size="5.98" font-weight="normal" font-style="normal" fill="#3a3a3a" stroke="#3a3a3a" stroke-width="0.35">3</text>
<text transform="translate(258.03,441.55) scale(0.895,1)" font-size="8.80" font-weight="normal" font-style="normal" fill="#3a3a3a" stroke="#3a3a3a" stroke-width="0.35">C</text><text transform="translate(263.72,441.55) scale(1.046,1)" font-size="8.80" font-weight="normal" font-style="normal" fill="#3a3a3a" stroke="#3a3a3a" stroke-width="0.35">H</text><text transform="translate(270.36,441.55) scale(0.895,1)" font-size="8.80" font-weight="normal" font-style="normal" fill="#3a3a3a" stroke="#3a3a3a" stroke-width="0.35">C</text><text transform="translate(276.05,441.55) scale(1.046,1)" font-size="8.80" font-weight="normal" font-style="normal" fill="#3a3a3a" stroke="#3a3a3a" stroke-width="0.35">H</text><text transform="translate(282.69,443.93) scale(1.105,1)" font-size="5.98" font-weight="normal" font-style="normal" fill="#3a3a3a" stroke="#3a3a3a" stroke-width="0.35">3</text><text transform="translate(286.37,441.55) scale(1.033,1)" font-size="8.80" font-weight="normal" font-style="normal" fill="#3a3a3a" stroke="#3a3a3a" stroke-width="0.35">+</text><text transform="translate(291.68,441.55) scale(1.046,1)" font-size="8.80" font-weight="normal" font-style="normal" fill="#3a3a3a" stroke="#3a3a3a" stroke-width="0.35">H</text>
<text transform="translate(327.23,413.65) scale(0.931,1)" font-size="8.80" font-weight="normal" font-style="normal" fill="#3a3a3a" stroke="#3a3a3a" stroke-width="0.35">C</text><text transform="translate(333.15,413.65) scale(1.089,1)" font-size="8.80" font-weight="normal" font-style="normal" fill="#3a3a3a" stroke="#3a3a3a" stroke-width="0.35">H</text><text transform="translate(340.06,416.03) scale(1.150,1)" font-size="5.98" font-weight="normal" font-style="normal" fill="#3a3a3a" stroke="#3a3a3a" stroke-width="0.35">2</text><text transform="translate(343.89,413.65) scale(0.931,1)" font-size="8.80" font-weight="normal" font-style="normal" fill="#3a3a3a" stroke="#3a3a3a" stroke-width="0.35">C</text><text transform="translate(349.81,413.65) scale(1.089,1)" font-size="8.80" font-weight="normal" font-style="normal" fill="#3a3a3a" stroke="#3a3a3a" stroke-width="0.35">H</text><text transform="translate(356.73,416.03) scale(1.150,1)" font-size="5.98" font-weight="normal" font-style="normal" fill="#3a3a3a" stroke="#3a3a3a" stroke-width="0.35">3</text>
<text transform="translate(367.39,415.45) scale(0.913,1)" font-size="8.80" font-weight="normal" font-style="normal" fill="#3a3a3a" stroke="#3a3a3a" stroke-width="0.35">C</text><text transform="translate(373.19,415.45) scale(1.067,1)" font-size="8.80" font-weight="normal" font-style="normal" fill="#3a3a3a" stroke="#3a3a3a" stroke-width="0.35">H</text><text transform="translate(379.96,417.83) scale(1.127,1)" font-size="5.98" font-weight="normal" font-style="normal" fill="#3a3a3a" stroke="#3a3a3a" stroke-width="0.35">2</text><text transform="translate(383.71,415.45) scale(0.913,1)" font-size="8.80" font-weight="normal" font-style="normal" fill="#3a3a3a" stroke="#3a3a3a" stroke-width="0.35">C</text><text transform="translate(389.51,415.45) scale(1.067,1)" font-size="8.80" font-weight="normal" font-style="normal" fill="#3a3a3a" stroke="#3a3a3a" stroke-width="0.35">H</text><text transform="translate(396.29,417.83) scale(1.127,1)" font-size="5.98" font-weight="normal" font-style="normal" fill="#3a3a3a" stroke="#3a3a3a" stroke-width="0.35">3</text><text transform="translate(400.04,415.45) scale(1.054,1)" font-size="8.80" font-weight="normal" font-style="normal" fill="#3a3a3a" stroke="#3a3a3a" stroke-width="0.35">+</text><text transform="translate(405.46,415.45) scale(1.067,1)" font-size="8.80" font-weight="normal" font-style="normal" fill="#3a3a3a" stroke="#3a3a3a" stroke-width="0.35">H</text>
<text transform="translate(455.18,410.65) scale(0.908,1)" font-size="8.80" font-weight="normal" font-style="normal" fill="#3a3a3a" stroke="#3a3a3a" stroke-width="0.35">C</text><text transform="translate(460.95,410.65) scale(1.062,1)" font-size="8.80" font-weight="normal" font-style="normal" fill="#3a3a3a" stroke="#3a3a3a" stroke-width="0.35">H</text><text transform="translate(467.69,413.03) scale(1.122,1)" font-size="5.98" font-weight="normal" font-style="normal" fill="#3a3a3a" stroke="#3a3a3a" stroke-width="0.35">3</text><text transform="translate(471.42,410.65) scale(0.908,1)" font-size="8.80" font-weight="normal" font-style="normal" fill="#3a3a3a" stroke="#3a3a3a" stroke-width="0.35">C</text><text transform="translate(477.19,410.65) scale(1.062,1)" font-size="8.80" font-weight="normal" font-style="normal" fill="#3a3a3a" stroke="#3a3a3a" stroke-width="0.35">H</text><text transform="translate(483.94,413.03) scale(1.122,1)" font-size="5.98" font-weight="normal" font-style="normal" fill="#3a3a3a" stroke="#3a3a3a" stroke-width="0.35">3</text>
<text transform="translate(456.06,432.25) scale(0.901,1)" font-size="8.80" font-weight="normal" font-style="normal" fill="#3a3a3a" stroke="#3a3a3a" stroke-width="0.35">C</text><text transform="translate(461.78,432.25) scale(1.053,1)" font-size="8.80" font-weight="normal" font-style="normal" fill="#3a3a3a" stroke="#3a3a3a" stroke-width="0.35">H</text><text transform="translate(468.47,434.63) scale(1.113,1)" font-size="5.98" font-weight="normal" font-style="normal" fill="#3a3a3a" stroke="#3a3a3a" stroke-width="0.35">2</text><text transform="translate(472.18,432.25) scale(0.901,1)" font-size="8.80" font-weight="normal" font-style="normal" fill="#3a3a3a" stroke="#3a3a3a" stroke-width="0.35">C</text><text transform="translate(477.90,432.25) scale(1.053,1)" font-size="8.80" font-weight="normal" font-style="normal" fill="#3a3a3a" stroke="#3a3a3a" stroke-width="0.35">H</text><text transform="translate(484.59,434.63) scale(1.113,1)" font-size="5.98" font-weight="normal" font-style="normal" fill="#3a3a3a" stroke="#3a3a3a" stroke-width="0.35">2</text>
<text transform="translate(35.94,431.95) scale(1.200,1)" font-size="12.10" font-weight="bold" font-style="normal" fill="#111" stroke="#111" stroke-width="0.3">M</text><text transform="translate(48.12,431.95) scale(1.050,1)" font-size="12.10" font-weight="bold" font-style="normal" fill="#111" stroke="#111" stroke-width="0.3">e</text><text transform="translate(55.18,431.95) scale(0.872,1)" font-size="12.10" font-weight="bold" font-style="normal" fill="#111" stroke="#111" stroke-width="0.3">c</text><text transform="translate(61.05,431.95) scale(1.020,1)" font-size="12.10" font-weight="bold" font-style="normal" fill="#111" stroke="#111" stroke-width="0.3">h</text><text transform="translate(68.59,431.95) scale(1.031,1)" font-size="12.10" font-weight="bold" font-style="normal" fill="#111" stroke="#111" stroke-width="0.3">a</text><text transform="translate(75.52,431.95) scale(1.020,1)" font-size="12.10" font-weight="bold" font-style="normal" fill="#111" stroke="#111" stroke-width="0.3">n</text><text transform="translate(83.06,431.95) scale(1.027,1)" font-size="12.10" font-weight="bold" font-style="normal" fill="#111" stroke="#111" stroke-width="0.3">i</text><text transform="translate(86.51,431.95) scale(0.833,1)" font-size="12.10" font-weight="bold" font-style="normal" fill="#111" stroke="#111" stroke-width="0.3">s</text><text transform="translate(92.11,431.95) scale(1.061,1)" font-size="12.10" font-weight="bold" font-style="normal" fill="#111" stroke="#111" stroke-width="0.3">m</text><text transform="translate(106.70,431.95) scale(1.058,1)" font-size="12.10" font-weight="bold" font-style="normal" fill="#111" stroke="#111" stroke-width="0.3">3</text>
<text transform="translate(54.04,450.05) scale(0.849,1)" font-size="12.10" font-weight="bold" font-style="normal" fill="#111" stroke="#111" stroke-width="0.3">C</text><text transform="translate(64.63,450.05) scale(0.988,1)" font-size="12.10" font-weight="bold" font-style="normal" fill="#111" stroke="#111" stroke-width="0.3">+</text><text transform="translate(74.78,450.05) scale(0.849,1)" font-size="12.10" font-weight="bold" font-style="normal" fill="#111" stroke="#111" stroke-width="0.3">C</text><text transform="translate(82.20,450.05) scale(1.013,1)" font-size="12.10" font-weight="bold" font-style="normal" fill="#111" stroke="#111" stroke-width="0.3">H</text><text transform="translate(91.05,453.32) scale(1.057,1)" font-size="8.23" font-weight="bold" font-style="normal" fill="#111" stroke="#111" stroke-width="0.3">3</text>
<text transform="translate(4.30,56.75) scale(1.076,1)" font-size="9.60" font-weight="normal" font-style="normal" fill="#404040" stroke="#404040" stroke-width="0.2">1</text><text transform="translate(10.05,56.75) scale(1.070,1)" font-size="9.60" font-weight="normal" font-style="normal" fill="#404040" stroke="#404040" stroke-width="0.2">.</text><text transform="translate(12.90,56.75) scale(1.076,1)" font-size="9.60" font-weight="normal" font-style="normal" fill="#404040" stroke="#404040" stroke-width="0.2">0</text>
<text transform="translate(4.57,102.85) scale(1.058,1)" font-size="9.60" font-weight="normal" font-style="normal" fill="#404040" stroke="#404040" stroke-width="0.2">0</text><text transform="translate(10.21,102.85) scale(1.051,1)" font-size="9.60" font-weight="normal" font-style="normal" fill="#404040" stroke="#404040" stroke-width="0.2">.</text><text transform="translate(13.02,102.85) scale(1.058,1)" font-size="9.60" font-weight="normal" font-style="normal" fill="#404040" stroke="#404040" stroke-width="0.2">5</text>
<text transform="translate(4.39,147.65) scale(1.048,1)" font-size="9.60" font-weight="normal" font-style="normal" fill="#404040" stroke="#404040" stroke-width="0.2">0</text><text transform="translate(9.98,147.65) scale(1.042,1)" font-size="9.60" font-weight="normal" font-style="normal" fill="#404040" stroke="#404040" stroke-width="0.2">.</text><text transform="translate(12.76,147.65) scale(1.048,1)" font-size="9.60" font-weight="normal" font-style="normal" fill="#404040" stroke="#404040" stroke-width="0.2">0</text>
<text transform="translate(1.58,193.75) scale(1.007,1)" font-size="9.60" font-weight="normal" font-style="normal" fill="#404040" stroke="#404040" stroke-width="0.2">-</text><text transform="translate(4.80,193.75) scale(0.999,1)" font-size="9.60" font-weight="normal" font-style="normal" fill="#404040" stroke="#404040" stroke-width="0.2">0</text><text transform="translate(10.13,193.75) scale(0.993,1)" font-size="9.60" font-weight="normal" font-style="normal" fill="#404040" stroke="#404040" stroke-width="0.2">.</text><text transform="translate(12.78,193.75) scale(0.999,1)" font-size="9.60" font-weight="normal" font-style="normal" fill="#404040" stroke="#404040" stroke-width="0.2">5</text>
<text transform="translate(4.57,239.55) scale(1.058,1)" font-size="9.60" font-weight="normal" font-style="normal" fill="#404040" stroke="#404040" stroke-width="0.2">0</text><text transform="translate(10.21,239.55) scale(1.051,1)" font-size="9.60" font-weight="normal" font-style="normal" fill="#404040" stroke="#404040" stroke-width="0.2">.</text><text transform="translate(13.02,239.55) scale(1.058,1)" font-size="9.60" font-weight="normal" font-style="normal" fill="#404040" stroke="#404040" stroke-width="0.2">5</text>
<text transform="translate(4.39,284.85) scale(1.048,1)" font-size="9.60" font-weight="normal" font-style="normal" fill="#404040" stroke="#404040" stroke-width="0.2">0</text><text transform="translate(9.98,284.85) scale(1.042,1)" font-size="9.60" font-weight="normal" font-style="normal" fill="#404040" stroke="#404040" stroke-width="0.2">.</text><text transform="translate(12.76,284.85) scale(1.048,1)" font-size="9.60" font-weight="normal" font-style="normal" fill="#404040" stroke="#404040" stroke-width="0.2">0</text>
<text transform="translate(1.42,330.85) scale(1.022,1)" font-size="9.60" font-weight="normal" font-style="normal" fill="#404040" stroke="#404040" stroke-width="0.2">-</text><text transform="translate(4.69,330.85) scale(1.014,1)" font-size="9.60" font-weight="normal" font-style="normal" fill="#404040" stroke="#404040" stroke-width="0.2">0</text><text transform="translate(10.10,330.85) scale(1.008,1)" font-size="9.60" font-weight="normal" font-style="normal" fill="#404040" stroke="#404040" stroke-width="0.2">.</text><text transform="translate(12.79,330.85) scale(1.014,1)" font-size="9.60" font-weight="normal" font-style="normal" fill="#404040" stroke="#404040" stroke-width="0.2">5</text>
<text transform="translate(4.57,375.65) scale(1.058,1)" font-size="9.60" font-weight="normal" font-style="normal" fill="#404040" stroke="#404040" stroke-width="0.2">0</text><text transform="translate(10.21,375.65) scale(1.051,1)" font-size="9.60" font-weight="normal" font-style="normal" fill="#404040" stroke="#404040" stroke-width="0.2">.</text><text transform="translate(13.02,375.65) scale(1.058,1)" font-size="9.60" font-weight="normal" font-style="normal" fill="#404040" stroke="#404040" stroke-width="0.2">5</text>
<text transform="translate(4.39,421.65) scale(1.048,1)" font-size="9.60" font-weight="normal" font-style="normal" fill="#404040" stroke="#404040" stroke-width="0.2">0</text><text transform="translate(9.98,421.65) scale(1.042,1)" font-size="9.60" font-weight="normal" font-style="normal" fill="#404040" stroke="#404040" stroke-width="0.2">.</text><text transform="translate(12.76,421.65) scale(1.048,1)" font-size="9.60" font-weight="normal" font-style="normal" fill="#404040" stroke="#404040" stroke-width="0.2">0</text>
<text transform="translate(1.42,467.85) scale(1.022,1)" font-size="9.60" font-weight="normal" font-style="normal" fill="#404040" stroke="#404040" stroke-width="0.2">-</text><text transform="translate(4.69,467.85) scale(1.014,1)" font-size="9.60" font-weight="normal" font-style="normal" fill="#404040" stroke="#404040" stroke-width="0.2">0</text><text transform="translate(10.10,467.85) scale(1.008,1)" font-size="9.60" font-weight="normal" font-style="normal" fill="#404040" stroke="#404040" stroke-width="0.2">.</text><text transform="translate(12.79,467.85) scale(1.014,1)" font-size="9.60" font-weight="normal" font-style="normal" fill="#404040" stroke="#404040" stroke-width="0.2">5</text>
<text transform="translate(1.00,513.55) scale(1.074,1)" font-size="9.60" font-weight="normal" font-style="normal" fill="#404040" stroke="#404040" stroke-width="0.2">-</text><text transform="translate(4.44,513.55) scale(1.066,1)" font-size="9.60" font-weight="normal" font-style="normal" fill="#404040" stroke="#404040" stroke-width="0.2">1</text><text transform="translate(10.12,513.55) scale(1.059,1)" font-size="9.60" font-weight="normal" font-style="normal" fill="#404040" stroke="#404040" stroke-width="0.2">.</text><text transform="translate(12.95,513.55) scale(1.066,1)" font-size="9.60" font-weight="normal" font-style="normal" fill="#404040" stroke="#404040" stroke-width="0.2">0</text>
</svg>
</body></html>
